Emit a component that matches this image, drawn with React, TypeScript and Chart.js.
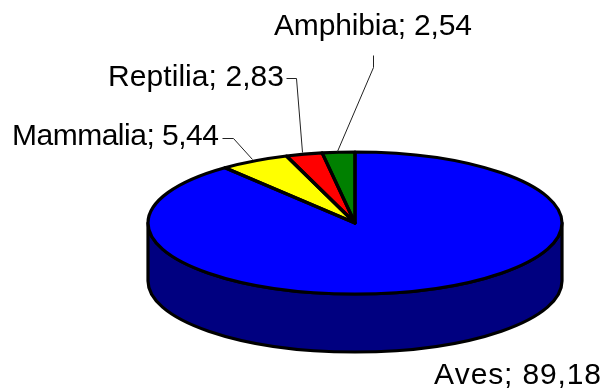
import React, { useEffect, useRef } from "react";
import { Chart, registerables } from "chart.js";

Chart.register(...registerables);

const groups = ["Aves", "Mammalia", "Reptilia", "Amphibia"];
const shares = [89.18, 5.44, 2.83, 2.54];
const faceColors = ["#0000ff", "#ffff00", "#ff0000", "#008000"];
const sideColor = "#000080";

// Disc proportions: the circular pie is flattened by this ratio and given this depth.
const RADIUS = 207;
const FLATTEN = 71 / 207;
const DEPTH = 58;
const PEN = 3.2;

// Text anchors (left, baseline), run widths and leader-line paths for each group.
const labelAnchors = [
  [434, 384],
  [12, 145],
  [108, 86],
  [274, 35],
];
const labelWidths = [167, 207, 176, 198];
const leaders = [
  null,
  [[222, 138], [233, 138], [252, 159]],
  [[286, 78], [296, 78], [302, 152]],
  [[373, 55], [373, 67], [337, 151]],
];

const discPlugin = {
  id: "disc",
  beforeDatasetsDraw(chart: any) {
    const ctx = chart.ctx;
    const first = chart.getDatasetMeta(0).data[0];
    const { x, y, outerRadius: r } = first.getProps(["x", "y", "outerRadius"], true);
    const ry = r * FLATTEN;

    // Visible wall below the front half of the top face.
    ctx.save();
    ctx.beginPath();
    ctx.ellipse(x, y, r, ry, 0, Math.PI, 0, true);
    ctx.lineTo(x + r, y + DEPTH);
    ctx.ellipse(x, y + DEPTH, r, ry, 0, 0, Math.PI, false);
    ctx.closePath();
    ctx.fillStyle = sideColor;
    ctx.fill();
    ctx.lineWidth = PEN;
    ctx.lineJoin = "round";
    ctx.strokeStyle = "#000";
    ctx.stroke();
    ctx.restore();

    // Flatten the slices Chart.js is about to paint.
    ctx.save();
    ctx.translate(x, y);
    ctx.scale(1, FLATTEN);
    ctx.translate(-x, -y);
  },
  afterDatasetsDraw(chart: any) {
    const ctx = chart.ctx;
    ctx.restore();

    // Outline each slice with an even pen width, outside the flattening transform.
    ctx.save();
    ctx.lineWidth = PEN;
    ctx.lineJoin = "round";
    ctx.strokeStyle = "#000";
    chart.getDatasetMeta(0).data.forEach((arc: any) => {
      const { x, y, startAngle, endAngle, outerRadius } = arc.getProps(
        ["x", "y", "startAngle", "endAngle", "outerRadius"],
        true
      );
      ctx.save();
      ctx.translate(x, y);
      ctx.scale(1, FLATTEN);
      ctx.beginPath();
      ctx.moveTo(0, 0);
      ctx.arc(0, 0, outerRadius, startAngle, endAngle);
      ctx.closePath();
      ctx.restore();
      ctx.stroke();
    });
    ctx.restore();

    // Category labels and their leader lines.
    ctx.save();
    ctx.font = '30px "Liberation Sans", Arial, sans-serif';
    ctx.fontKerning = "none";
    ctx.fillStyle = "#000";
    ctx.textAlign = "left";
    ctx.textBaseline = "alphabetic";
    groups.forEach((name, i) => {
      const text = `${name}; ${shares[i].toFixed(2).replace(".", ",")}`;
      ctx.letterSpacing = "0px";
      const spare = labelWidths[i] - ctx.measureText(text).width;
      ctx.letterSpacing = `${spare / (text.length - 1)}px`;
      ctx.fillText(text, labelAnchors[i][0], labelAnchors[i][1]);
      const path = leaders[i];
      if (path) {
        ctx.beginPath();
        path.forEach(([px, py], k) => (k ? ctx.lineTo(px + 0.5, py + 0.5) : ctx.moveTo(px + 0.5, py + 0.5)));
        ctx.lineWidth = 1;
        ctx.strokeStyle = "#222";
        ctx.stroke();
      }
    });
    ctx.restore();
  },
};

export default function App() {
  const canvasRef = useRef<HTMLCanvasElement>(null);

  useEffect(() => {
    const chart = new Chart(canvasRef.current as HTMLCanvasElement, {
      type: "pie",
      data: {
        labels: groups,
        datasets: [
          {
            data: shares,
            backgroundColor: faceColors,
            borderWidth: 0,
            radius: RADIUS,
            clip: false,
          } as any,
        ],
      },
      options: {
        animation: false,
        responsive: false,
        layout: { padding: { left: 106, top: 57, right: 0, bottom: 0 } },
        plugins: { legend: { display: false }, tooltip: { enabled: false } },
      },
      plugins: [discPlugin],
    });
    return () => chart.destroy();
  }, []);

  return (
    <div style={{ position: "fixed", left: 0, top: 0, width: 604, height: 389, background: "#fff" }}>
      <canvas ref={canvasRef} width={604} height={389} style={{ display: "block" }} />
    </div>
  );
}
